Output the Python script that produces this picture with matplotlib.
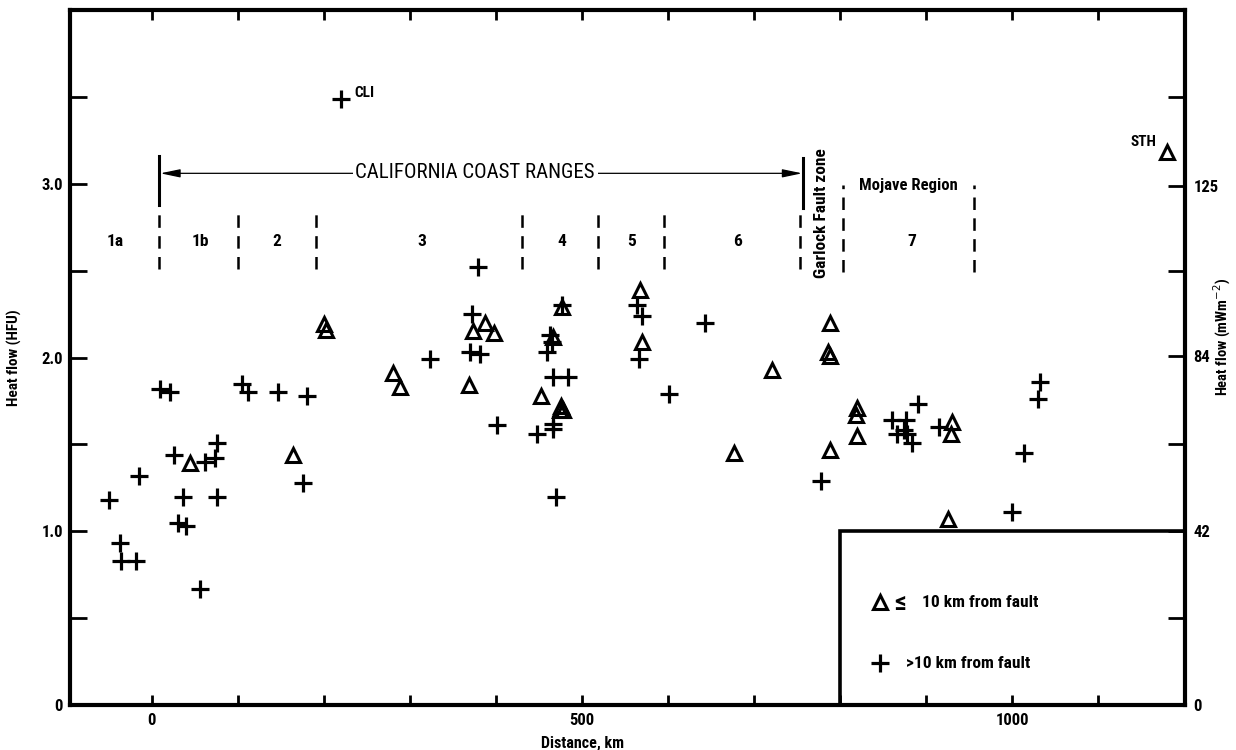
import matplotlib
matplotlib.use("Agg")
import matplotlib.pyplot as plt
from matplotlib.patches import Rectangle
from matplotlib import font_manager

avail = {f.name for f in font_manager.fontManager.ttflist}
fam = [f for f in ["Liberation Sans Narrow", "Roboto Condensed", "Liberation Sans", "DejaVu Sans"] if f in avail]
plt.rcParams['font.family'] = fam
plt.rcParams['lines.scale_dashes'] = False

# ---- data (distance km, heat flow HFU) ----
near_x = [45, 164, 200, 202, 280, 288, 369, 373, 387, 398, 453, 466, 477, 474, 478, 476,
          567, 570, 677, 721, 788, 786, 788, 788, 820, 819, 820, 930, 929, 926, 1180]
near_y = [1.39, 1.44, 2.19, 2.16, 1.91, 1.83, 1.84, 2.15, 2.20, 2.14, 1.78, 2.12, 2.29, 1.70, 1.70, 1.72,
          2.39, 2.09, 1.45, 1.93, 2.20, 2.03, 2.01, 1.47, 1.71, 1.67, 1.55, 1.63, 1.56, 1.07, 3.18]

far_x = [-50, -37, -36, -18, -15, 10, 21, 26, 30, 40, 36, 56, 62, 73, 76, 76, 105, 112, 147, 181,
         176, 220, 324, 370, 381, 372, 379, 401, 448, 460, 463, 465, 477, 466, 484, 466, 466, 470,
         564, 570, 566, 601, 643, 778, 860, 877, 866, 874, 878, 884, 891, 915, 1000, 1014, 1030, 1033]
far_y = [1.18, 0.93, 0.83, 0.83, 1.32, 1.82, 1.80, 1.44, 1.05, 1.03, 1.20, 0.67, 1.40, 1.42, 1.51, 1.20,
         1.85, 1.80, 1.80, 1.78, 1.28, 3.49, 1.99, 2.03, 2.02, 2.25, 2.52, 1.61, 1.56, 2.03, 2.13, 2.09,
         2.30, 1.89, 1.89, 1.62, 1.59, 1.20, 2.30, 2.24, 1.99, 1.79, 2.20, 1.29, 1.64, 1.64, 1.56, 1.58,
         1.56, 1.51, 1.73, 1.60, 1.11, 1.45, 1.76, 1.86]

# region dividers (km) and labels
div_x = [9, 100, 191, 430, 519, 595, 753]
mojave_div_x = [803, 956]
region_labels = ["1a", "1b", "2", "3", "4", "5", "6", "7"]
region_label_x = [-43, 56, 145, 314, 477, 558, 681, 884]

left_ticks = [0, 1.0, 2.0, 3.0]
left_ticklabels = ["0", "1.0", "2.0", "3.0"]
right_ticklabels = [0, 42, 84, 125]
HFU_TO_MW = 41.868

fig = plt.figure(figsize=(12.36, 7.5), dpi=100)
ax = fig.add_axes([70/1236, 45/750, 1115/1236, 695/750])
ax.set_xlim(-95, 1201)
ax.set_ylim(0, 4.0)

mk = dict(linestyle='none', color='black')
ax.plot(far_x, far_y, marker='+', markersize=13, markeredgewidth=2.3, **mk)
ax.plot(near_x, near_y, marker='^', markersize=9.5, markeredgewidth=2.2,
        markerfacecolor='none', markeredgecolor='black', linestyle='none')

# labels for special points
ax.text(235, 3.52, "CLI", fontsize=11, fontweight='bold', ha='left', va='center')
ax.text(1168, 3.24, "STH", fontsize=11, fontweight='bold', ha='right', va='center')

# dividers
dash = (0, (9, 6))
for x in div_x:
    ax.plot([x, x], [2.51, 2.83], color='black', lw=1.8, linestyle=dash)
for x in mojave_div_x:
    ax.plot([x, x], [2.49, 2.99], color='black', lw=1.8, linestyle=dash)
# solid bars for California Coast Ranges
ax.plot([9, 9], [2.88, 3.16], color='black', lw=2.2)
ax.plot([757, 757], [2.86, 3.15], color='black', lw=2.2)

# arrow
ax.annotate("", xy=(10, 3.06), xytext=(756, 3.06),
            arrowprops=dict(arrowstyle='<|-|>,head_length=1.2,head_width=0.25', color='black', lw=0.9,
                            shrinkA=0, shrinkB=0))
ax.text(376, 3.065, "CALIFORNIA COAST RANGES", fontsize=15, ha='center', va='center',
        bbox=dict(facecolor='white', edgecolor='none', pad=2))

for lab, x in zip(region_labels, region_label_x):
    ax.text(x, 2.67, lab, fontsize=12.5, fontweight='bold', ha='center', va='center')
ax.text(880, 2.99, "Mojave Region", fontsize=12, fontweight='bold', ha='center', va='center')
ax.text(779, 2.83, "Garlock Fault zone", fontsize=12.5, fontweight='bold', ha='center', va='center',
        rotation=90)

# legend box
ax.add_patch(Rectangle((800, 0), 401, 1.0, fill=False, edgecolor='black', lw=2.6, clip_on=False))
ax.plot([846], [0.59], marker='^', markersize=9.5, markeredgewidth=2.2, markerfacecolor='none',
        markeredgecolor='black', linestyle='none')
ax.text(863, 0.585, "\u2264", fontsize=19, fontweight='bold', ha='left', va='center')
ax.text(895, 0.59, "10 km from fault", fontsize=12.5, fontweight='bold', ha='left', va='center')
ax.plot([846], [0.24], marker='+', markersize=13, markeredgewidth=2.3, **mk)
ax.text(877, 0.24, ">10 km from fault", fontsize=12.5, fontweight='bold', ha='left', va='center')

# axes styling
for s in ax.spines.values():
    s.set_linewidth(3)
ax.set_xticks([0, 500, 1000])
ax.set_xticklabels(["0", "500", "1000"])
ax.set_xticks(list(range(0, 1201, 100)), minor=True)
ax.set_yticks(left_ticks)
ax.set_yticklabels(left_ticklabels)
ax.set_yticks([0.5, 1.5, 2.5, 3.5], minor=True)
ax.tick_params(which='both', direction='in', top=True, right=False, width=2)
ax.tick_params(axis='x', which='both', length=7, pad=6, labelsize=12)
ax.tick_params(axis='y', which='both', length=12, pad=5, labelsize=12)
for lbl in ax.get_xticklabels() + ax.get_yticklabels():
    lbl.set_fontweight('bold')

ax2 = ax.twinx()
ax2.set_ylim(ax.get_ylim())
ax2.set_yticks([v / HFU_TO_MW for v in right_ticklabels])
ax2.set_yticklabels([str(v) for v in right_ticklabels])
ax2.set_yticks([0.5, 1.5, 2.5, 3.5], minor=True)
ax2.tick_params(which='both', direction='in', length=12, width=2, pad=6, labelsize=12)
for lbl in ax2.get_yticklabels():
    lbl.set_fontweight('bold')
for s in ax2.spines.values():
    s.set_visible(False)

ax.set_xlabel("Distance, km", fontsize=11.5, fontweight='bold')
ax.xaxis.set_label_coords(0.46, -0.044)
ax.set_ylabel("Heat flow (HFU)", fontsize=11, fontweight='bold')
ax.yaxis.set_label_coords(-0.043, 0.5)
ax2.set_ylabel("Heat flow (mWm$^{-2}$)", fontsize=10.5, fontweight='bold')
ax2.yaxis.set_label_coords(1.024, 0.53)

fig.savefig("out.png", dpi=100)
